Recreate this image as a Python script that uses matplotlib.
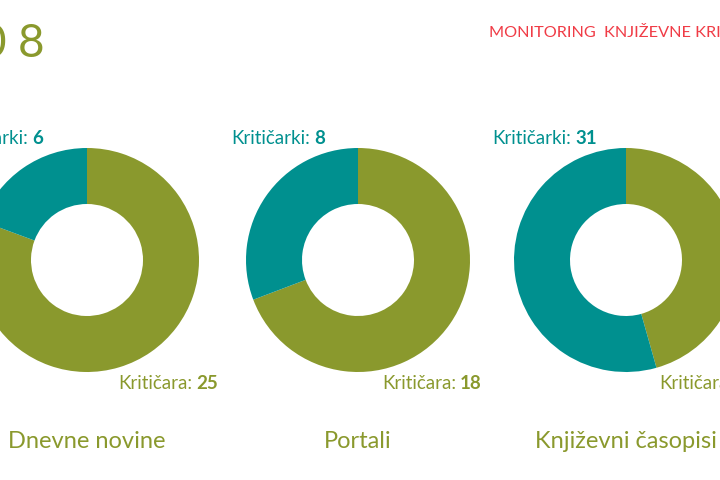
import matplotlib.pyplot as plt

W, H = 720, 480
teal = "#00908f"
green = "#8a992d"
red = "#f03c46"

year = "2008"
header = "MONITORING  KNJIŽEVNE KRITIKE"
categories = ["Dnevne novine", "Portali", "Književni časopisi"]
kriticari = [25, 18, 26]
kriticarke = [6, 8, 31]

plt.rcParams["font.family"] = ["Lato", "DejaVu Sans"]
fig = plt.figure(figsize=(7.2, 4.8), dpi=100)
renderer = fig.canvas.get_renderer()


def ftext(x, y, s, **kw):
    # x, y in pixels from the top left corner
    return fig.text(x / W, (H - y) / H, s, **kw)


def width_px(t):
    return t.get_window_extent(renderer).width


# letter-spaced year, last digit centred at x=31
pitch = 38
for k, ch in enumerate(year):
    ftext(31 - pitch * (len(year) - 1 - k), 57, ch, fontsize=33, color=green,
          ha="center", va="baseline")
ftext(489, 37, header, fontsize=11.7, color=red, va="baseline")

centers = [87, 358, 626]
cy = 260
r = 112
teal_right = [43, 325, 597]
green_left = [118, 382, 659]
fs = 13.5
gap = 4

for i, cx in enumerate(centers):
    ax = fig.add_axes([(cx - r) / W, (H - cy - r) / H, 2 * r / W, 2 * r / H])
    ax.pie([kriticari[i], kriticarke[i]], colors=[green, teal], startangle=90,
           counterclock=False, radius=1, wedgeprops=dict(width=0.5, linewidth=0))
    ax.set_xlim(-1, 1)
    ax.set_ylim(-1, 1)
    ax.axis("off")

    # teal label, right aligned
    num = ftext(teal_right[i], 144, str(kriticarke[i]), fontsize=fs, color=teal,
                fontweight="bold", ha="right", va="baseline")
    ftext(teal_right[i] - width_px(num) - gap, 144, "Kritičarki:", fontsize=fs,
          color=teal, ha="right", va="baseline")

    # green label, left aligned
    lab = ftext(green_left[i], 389, "Kritičara:", fontsize=fs, color=green,
                ha="left", va="baseline")
    ftext(green_left[i] + width_px(lab) + gap, 389, str(kriticari[i]), fontsize=fs,
          color=green, fontweight="bold", ha="left", va="baseline")

    ftext(cx, 448, categories[i], fontsize=17, color=green, ha="center", va="baseline")

fig.savefig("out.png", dpi=100)
